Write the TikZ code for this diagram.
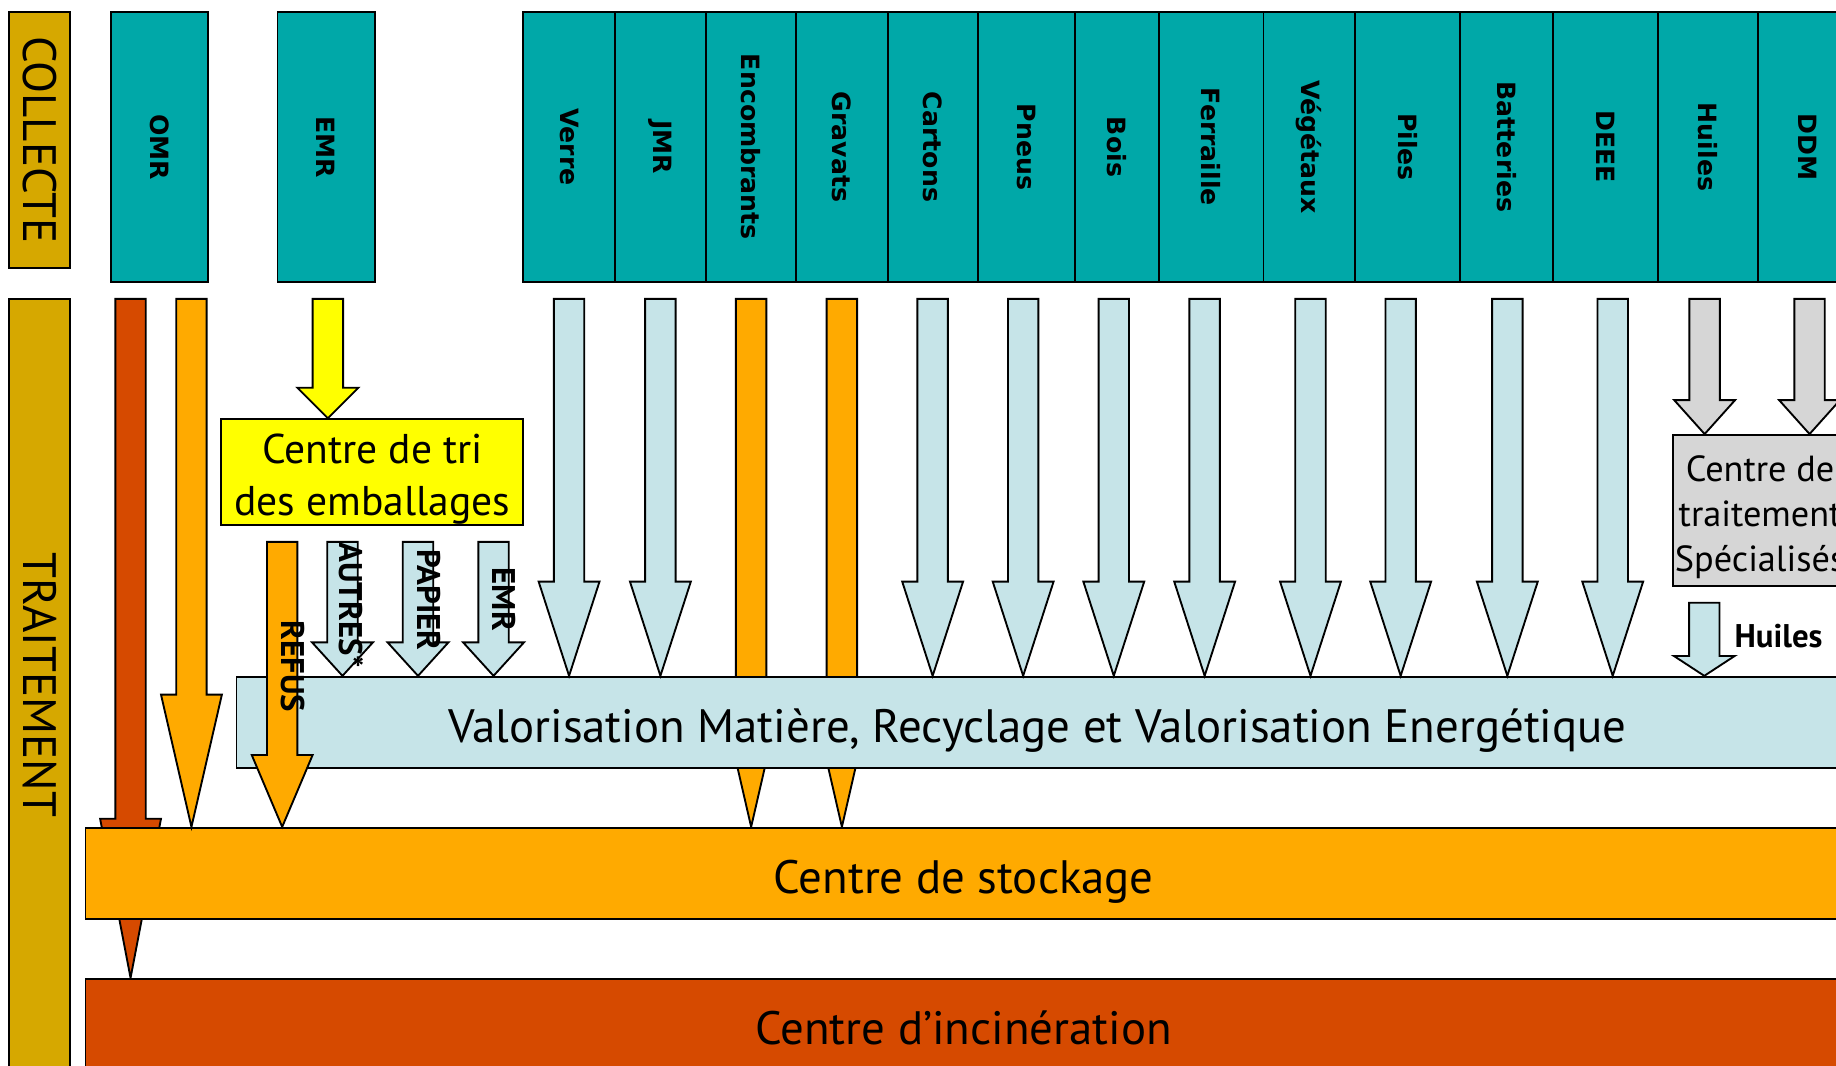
\documentclass[tikz,border=0pt]{standalone}
\usepackage{fontspec}
\setmainfont{PT Sans}
\newfontfamily\etiqfont{DejaVu Sans}
\usepackage{graphicx}
\usetikzlibrary{calc,positioning}
\pgfdeclarelayer{background}
\pgfsetlayers{background,main}
\definecolor{ocre}{RGB}{214,168,0}
\definecolor{sarcelle}{RGB}{0,168,168}
\definecolor{rouille}{RGB}{214,74,0}
\definecolor{orangevif}{RGB}{255,170,0}
\definecolor{jaune}{RGB}{255,255,0}
\definecolor{bleuclair}{RGB}{198,228,232}
\definecolor{grisclair}{RGB}{214,214,214}
\tikzstyle{boite}=[draw, line width=1.6pt, inner sep=0pt, text centered]
\tikzstyle{bandeau}=[boite, fill=ocre, minimum width=52pt,
  font=\fontsize{40}{42}\selectfont]
\tikzstyle{collecte}=[boite, fill=sarcelle, minimum height=231pt,
  font=\etiqfont\bfseries\fontsize{21.5}{24}\selectfont]
\tikzstyle{centre}=[boite, text height=34pt, text depth=0pt,
  font=\fontsize{40}{44}\selectfont]
\tikzstyle{fleche}=[draw, line width=1.6pt, line join=miter]
\tikzstyle{etiquette}=[inner sep=0pt, font=\bfseries\fontsize{28}{30}\selectfont]
% boite de collecte : nom, x du centre, largeur, texte
\newcommand{\collecte}[4]{%
  \node[collecte, minimum width=#3pt] (#1) at (#2,784.5) {\rotatebox{-90}{#4}};}
% fleche pleine : couleur, source, decalage, cible, longueur de pointe
\newcommand{\fleche}[5]{%
  \path[fleche, fill=#1] let \p1=($(#2.south)+(#3,-13.5)$), \p2=(#4.north) in
    (\x1-13,\y1) -- (\x1+13,\y1) -- (\x1+13,\y2+#5) -- (\x1+26,\y2+#5)
    -- (\x1,\y2) -- (\x1-26,\y2+#5) -- (\x1-13,\y2+#5) -- cycle;}

\begin{document}
\begin{tikzpicture}[x=1pt,y=1pt]
  \useasboundingbox (0,0) rectangle (1568,910);
  \clip (0,0) rectangle (1568,910);

  % Bandeaux
  \node[bandeau, minimum height=219pt] (coll) at (34,790.5) {\rotatebox{-90}{COLLECTE}};
  \node[bandeau, minimum height=660pt] (trait) at (34,325) {\rotatebox{-90}{TRAITEMENT}};

  % Collecte
  \collecte{omr}{136.5}{83}{OMR}
  \collecte{emr}{278.5}{83}{EMR}
  \collecte{verre}{486}{78}{Verre}
  \collecte{jmr}{564}{78}{JMR}
  \collecte{encomb}{641.5}{77}{Encombrants}
  \collecte{gravats}{719}{78}{Gravats}
  \collecte{cartons}{796.5}{77}{Cartons}
  \collecte{pneus}{876.5}{83}{Pneus}
  \collecte{bois}{954}{72}{Bois}
  \collecte{ferraille}{1034.5}{89}{Ferraille}
  \collecte{vegetaux}{1118}{78}{Végétaux}
  \collecte{piles}{1202}{90}{Piles}
  \collecte{batteries}{1286.5}{79}{Batteries}
  \collecte{deee}{1371}{90}{DEEE}
  \collecte{huiles}{1458.5}{85}{Huiles}
  \collecte{ddm}{1544}{86}{DDM}

  % Centres de traitement
  \node[boite, fill=jaune, minimum width=258pt, minimum height=90.5pt] (tri)
    at (318,506.75) {};
  \node[align=center, inner sep=0pt, font=\fontsize{35.5}{44}\selectfont] (tritxt)
    at ($(tri.center)+(0,-6)$) {Centre de tri\\des emballages};
  \node[boite, fill=grisclair, minimum width=156pt, minimum height=129pt] (spec)
    at (1507,474) {};
  \node[inner sep=2pt, anchor=west, align=center, font=\fontsize{31}{38.5}\selectfont]
    (spectxt) at ($(spec.west)+(0,-5.5)$) {Centre de\\traitement\\Spécialisés};
  \node[centre, fill=bleuclair, minimum width=1368pt, minimum height=78pt] (valo)
    at (886,293) {Valorisation Matière, Recyclage et Valorisation Energétique};
  \node[centre, fill=orangevif, minimum width=1500pt, minimum height=77.5pt] (stock)
    at (823,164.25) {Centre de stockage};
  \node[centre, fill=rouille, minimum width=1500pt, minimum height=78pt] (incin)
    at (823,35) {Centre d’incinération};

  % Fleches passant derriere les centres
  \begin{pgfonlayer}{background}
    \fleche{rouille}{omr}{-25}{incin}{136}
    \fleche{orangevif}{encomb}{0}{stock}{113}
    \fleche{orangevif}{gravats}{0}{stock}{113}
  \end{pgfonlayer}

  % Fleches de collecte
  \fleche{orangevif}{omr}{27}{stock}{113}
  \fleche{jaune}{emr}{1.5}{tri}{26}
  \fleche{bleuclair}{verre}{0}{valo}{80.5}
  \fleche{bleuclair}{jmr}{0}{valo}{80.5}
  \fleche{bleuclair}{cartons}{0}{valo}{80.5}
  \fleche{bleuclair}{pneus}{-2.7}{valo}{80.5}
  \fleche{bleuclair}{bois}{-2.8}{valo}{80.5}
  \fleche{bleuclair}{ferraille}{-5.7}{valo}{80.5}
  \fleche{bleuclair}{vegetaux}{1.2}{valo}{80.5}
  \fleche{bleuclair}{piles}{-5.8}{valo}{80.5}
  \fleche{bleuclair}{batteries}{0.8}{valo}{80.5}
  \fleche{bleuclair}{deee}{6.3}{valo}{80.5}
  \fleche{grisclair}{huiles}{-2.7}{spec}{29}
  \fleche{grisclair}{ddm}{1.4}{spec}{29}

  % Sorties des centres
  \fleche{bleuclair}{tri}{-25.5}{valo}{28.6}
  \fleche{bleuclair}{tri}{39}{valo}{28.6}
  \fleche{bleuclair}{tri}{103.5}{valo}{28.6}
  \fleche{orangevif}{tri}{-77}{stock}{61.4}
  \fleche{bleuclair}{spec}{-51.5}{valo}{17}

  % Etiquettes des fleches
  \node[etiquette] (lrefus) at ($(tri.south)+(-68,-120)$) {\rotatebox{-90}{REFUS}};
  \node[etiquette] (lautres) at ($(tri.south)+(-18,-67.5)$) {\rotatebox{-90}{AUTRES*}};
  \node[etiquette] (lpapier) at ($(tri.south)+(48.5,-63.2)$) {\rotatebox{-90}{PAPIER}};
  \node[etiquette] (lemr) at ($(tri.south)+(112.6,-62.5)$) {\rotatebox{-90}{EMR}};
  \node[etiquette, anchor=west] (lhuiles) at ($(spec.south west)+(53,-41.6)$) {Huiles};
\end{tikzpicture}
\end{document}
